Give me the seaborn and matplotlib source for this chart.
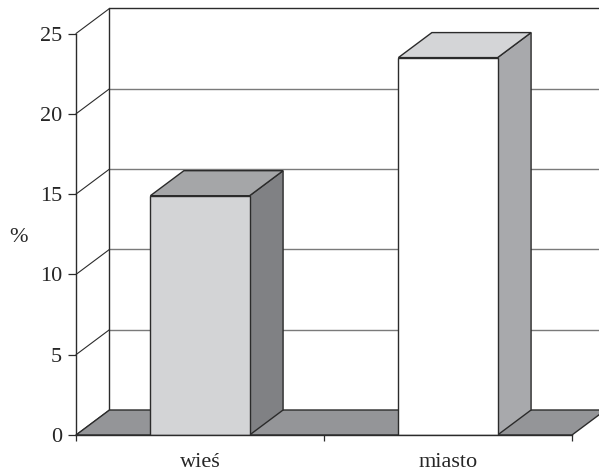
import matplotlib
matplotlib.use("Agg")
import matplotlib.pyplot as plt
from matplotlib.patches import Polygon
from matplotlib.ticker import FixedLocator
import seaborn as sns
import pandas as pd

# data
categories = ["wieś", "miasto"]
values = [14.9, 23.5]
y_ticks = [0, 5, 10, 15, 20, 25]
y_label = "%"

# face colours per bar: front, top, side
front_colors = ["#d3d4d6", "#ffffff"]
top_colors = ["#a5a6a8", "#d4d5d7"]
side_colors = ["#808184", "#a8a9ac"]
floor_color = "#949598"
edge = "#2b2b2b"

sns.set_theme(style="white")
plt.rcParams["font.family"] = ["Liberation Serif", "DejaVu Serif"]

fig = plt.figure(figsize=(5.99, 4.71), dpi=100)
ax = fig.add_axes([76 / 599, 36 / 471, 496 / 599, 401.5 / 471])
ax.set_facecolor("none")

df = pd.DataFrame({"cat": categories, "val": values})
sns.barplot(data=df, x="cat", y="val", hue="cat", palette=front_colors,
            width=0.4, edgecolor=edge, linewidth=1.0, legend=False, ax=ax,
            zorder=5)

ax.set_xlim(-0.5, 1.5)
ax.set_ylim(0, 25)

# depth offset of the 3-D box, in data units
dx, dy = 0.135, 1.557
x0, x1 = -0.5, 1.5

# back wall: gridlines and outline
for v in y_ticks:
    if v in (0, 25):
        continue
    ax.plot([x0 + dx, x1 + dx + 0.2], [v + dy, v + dy], color="#7a7a7a",
            lw=1.0, zorder=1, clip_on=False)
ax.plot([x0 + dx, x1 + dx + 0.2], [25 + dy, 25 + dy], color=edge, lw=1.0,
        zorder=1, clip_on=False)
ax.plot([x0 + dx, x0 + dx], [dy, 25 + dy], color=edge, lw=1.0, zorder=1,
        clip_on=False)
# side wall diagonals
for v in y_ticks:
    ax.plot([x0, x0 + dx], [v, v + dy], color=edge, lw=0.8, zorder=1,
            clip_on=False)

# floor
ax.add_patch(Polygon([(x0, 0), (x1, 0), (x1 + dx, dy), (x0 + dx, dy)],
                     closed=True, facecolor=floor_color, edgecolor=edge,
                     lw=1.0, zorder=2, clip_on=False))

# top and side faces of every bar
for bar, tc, sc in zip(ax.patches[:len(values)], top_colors, side_colors):
    xl = bar.get_x()
    xr = xl + bar.get_width()
    h = bar.get_height()
    ax.add_patch(Polygon([(xr, 0), (xr + dx, dy), (xr + dx, h + dy), (xr, h)],
                         closed=True, facecolor=sc, edgecolor=edge, lw=1.0,
                         zorder=4, clip_on=False))
    ax.add_patch(Polygon([(xl, h), (xr, h), (xr + dx, h + dy), (xl + dx, h + dy)],
                         closed=True, facecolor=tc, edgecolor=edge, lw=1.0,
                         zorder=4, clip_on=False))

# axes styling
for s in ("top", "right"):
    ax.spines[s].set_visible(False)
for s in ("left", "bottom"):
    ax.spines[s].set_color(edge)
    ax.spines[s].set_linewidth(1.0)
    ax.spines[s].set_zorder(6)

ax.set_yticks(y_ticks)
ax.set_yticklabels([str(t) for t in y_ticks], fontsize=16)
ax.tick_params(axis="y", which="major", left=True, length=6, width=0.9,
               pad=4, color=edge, direction="out")
ax.set_xticks(range(len(categories)))
ax.set_xticklabels(categories, fontsize=16)
ax.tick_params(axis="x", which="major", bottom=False, length=0, pad=13)
ax.xaxis.set_minor_locator(FixedLocator([-0.5, 0.5, 1.5]))
ax.tick_params(axis="x", which="minor", bottom=True, length=4.5, width=0.9,
               color=edge, direction="out")
ax.set_xlabel("")
ax.set_ylabel("")
fig.text(18 / 599, 1 - 238 / 471, y_label, fontsize=16, ha="center",
         va="center")

fig.savefig("out.png", dpi=100)
